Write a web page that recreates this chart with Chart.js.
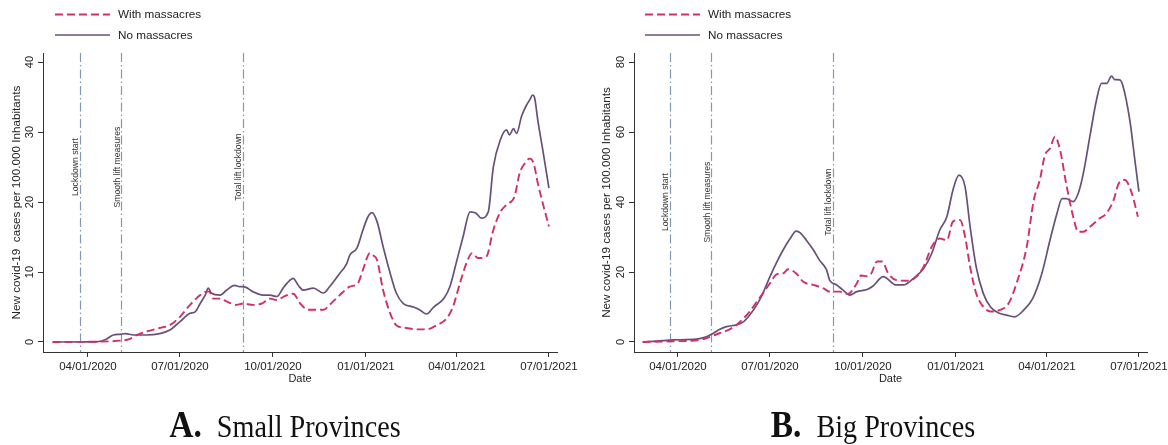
<!DOCTYPE html>
<html>
<head>
<meta charset="utf-8">
<script src="https://cdn.jsdelivr.net/npm/chart.js@4.4.1/dist/chart.umd.min.js"></script>
<style>
  body { margin: 0; background: #fff; width: 1168px; height: 445px; overflow: hidden; position: relative; }
  canvas { position: absolute; top: 0; }
  .cap { position: absolute; top: 405px; white-space: nowrap; font-family: "Liberation Serif", serif;
         font-size: 32px; line-height: 1; color: #111; transform: translateX(-50%) scaleX(.88); }
  .cap b { font-size: 38px; margin-right: 9px; }
</style>
</head>
<body>
<canvas id="small" width="584" height="445" style="left:0"></canvas>
<canvas id="big" width="584" height="445" style="left:584px"></canvas>
<div class="cap" style="left:285px"><b>A.</b> Small Provinces</div>
<div class="cap" style="left:873px"><b>B.</b> Big Provinces</div>
<script>
// days counted from 04/01/2020
var dateTicks = [0, 91, 183, 275, 365, 456];
var dateLabels = ['04/01/2020', '07/01/2020', '10/01/2020', '01/01/2021', '04/01/2021', '07/01/2021'];
var eventDays = [-8, 33, 153];
var eventLabels = ['Lockdown start', 'Smooth lift measures', 'Total lift lockdown'];
var seriesNames = ['With massacres', 'No massacres'];

var smallYTicks = [0, 10, 20, 30, 40];
var bigYTicks = [0, 20, 40, 60, 80];

var smallNoDays = [-35,-20,0,10,18,25,32,37,45,58,71,81,91,101,106,111,116,119,122,131,137,145,150,154,163,173,180,187,193,197,203,208,213,223,233,239,249,256,259,266,272,277,281,286,292,299,305,312,322,328,335,342,352,358,365,371,378,384,389,396,401,408,414,417,421,424,429,434,437,440,442,445,450,456];
var smallNo = [0,0,0.02,0.05,0.4,1.0,1.1,1.2,1.0,1.0,1.2,1.7,2.9,4.1,4.3,5.5,6.7,7.7,7.0,6.7,7.4,8.1,7.9,7.9,7.2,6.7,6.7,6.5,7.7,8.4,9.1,8.1,7.4,7.7,7.0,7.9,9.8,11.2,12.4,13.4,16.0,17.9,18.5,17.2,13.6,9.8,7.0,5.5,5.0,4.6,4.0,5.0,6.2,7.9,11.7,15.0,18.6,18.4,17.7,18.6,25.0,28.9,30.3,29.6,30.5,29.8,32.3,33.9,34.6,35.3,34.8,31.7,27.4,22.0];

var smallWithDays = [-35,10,32,41,47,58,71,81,91,101,111,117,120,124,131,137,147,154,163,172,180,187,190,197,203,210,218,233,239,249,259,267,272,279,282,286,292,299,305,315,325,335,345,355,361,368,375,380,386,394,401,408,414,422,427,432,437,441,445,450,456];
var smallWith = [0,0.05,0.2,0.4,0.9,1.5,2.0,2.4,3.6,5.3,6.7,7.2,7.2,6.2,6.2,5.8,5.3,5.5,5.3,5.5,6.2,6.0,6.2,6.7,6.9,5.5,4.6,4.6,5.3,6.7,7.9,8.4,10.3,12.7,12.4,11.7,7.4,4.1,2.4,2.0,1.8,1.8,2.4,3.4,5.0,8.4,11.5,12.7,12.0,12.2,16.0,18.6,19.6,20.8,24.1,25.5,26.2,25.5,22.7,19.8,16.5];

var bigNoDays = [-35,-15,-5,18,28,35,41,48,58,65,71,78,84,91,98,104,111,117,121,127,134,140,147,150,157,163,170,177,187,193,203,216,223,233,243,251,259,266,272,278,284,289,295,302,309,318,325,333,342,351,360,368,375,380,384,391,396,401,408,414,419,424,429,432,437,440,447,452,456];
var bigNo = [0,0.4,0.6,0.8,1.5,2.5,3.6,4.4,4.9,5.8,7.7,10.6,13.9,18.7,23,26.3,29.6,31.7,31.2,29.1,26.3,23.4,20.6,17.7,16.3,14.9,13.4,14.4,15.0,16.0,18.7,16.3,16.3,18.2,21.0,25.3,32,35.8,43.4,47.7,44.4,33,21.5,13.9,10.1,8.2,7.7,7.2,9.1,12.5,19.6,29.1,36.8,41,41,40.1,42.5,48.2,59.6,69.1,73.9,73.9,76,75,74.9,73.4,63.4,52,43];

var bigWithDays = [-35,-5,22,32,41,51,58,65,71,78,84,91,98,104,109,117,124,134,144,150,160,168,177,181,187,191,197,202,208,216,226,234,243,251,259,266,272,279,284,289,295,302,309,318,327,335,345,352,358,363,368,373,378,384,391,396,401,408,417,424,431,436,442,449,455];
var bigWith = [0,0.2,0.6,1.5,2.5,3.6,4.9,6.8,8.7,11.5,13.9,16.8,19.4,19.6,20.8,19.6,17.2,16.3,15.3,14.4,14.4,13.7,16.8,19.0,18.8,19.5,23,23,19.6,17.7,17.5,18.2,21.5,27.2,29.6,29.1,34.4,34.9,30.1,21.5,13.9,10.1,8.7,9.1,11.0,16.8,27.2,40.6,46.3,53.4,55.3,58.7,54.9,45.3,35.8,31.5,31.5,33,35.3,36.8,40.6,45.3,46.3,42.5,35.8];

var INK = '#222';
var SANS = '"Liberation Sans", Arial, sans-serif';

function pts(days, vals) {
    return days.map(function (d, i) { return { x: d, y: vals[i] }; });
}

// event lines, rotated labels, y tick labels, axis titles, legend
var decor = {
    id: 'decor',
    beforeDatasetsDraw: function (chart, args, o) {
        var ctx = chart.ctx, a = chart.chartArea, x = chart.scales.x, y = chart.scales.y;
        ctx.save();
        ctx.strokeStyle = '#8199b3';
        ctx.lineWidth = 1.2;
        ctx.setLineDash([9, 3, 1.5, 3]);
        eventDays.forEach(function (d) {
            var px = Math.round(x.getPixelForValue(d)) + 0.5;
            ctx.beginPath();
            ctx.moveTo(px, a.top);
            ctx.lineTo(px, a.bottom);
            ctx.stroke();
        });
        ctx.setLineDash([]);
        ctx.fillStyle = '#333';
        ctx.font = '8.6px ' + SANS;
        ctx.textAlign = 'center';
        ctx.textBaseline = 'alphabetic';
        eventDays.forEach(function (d, i) {
            ctx.save();
            ctx.translate(x.getPixelForValue(d) - 1.8, y.getPixelForValue(o.eventLabelAt));
            ctx.rotate(-Math.PI / 2);
            ctx.fillText(eventLabels[i], 0, 0);
            ctx.restore();
        });
        ctx.restore();
    },
    afterDraw: function (chart, args, o) {
        var ctx = chart.ctx, a = chart.chartArea, x = chart.scales.x, y = chart.scales.y;
        ctx.save();
        ctx.fillStyle = INK;
        ctx.textAlign = 'center';
        ctx.textBaseline = 'alphabetic';
        // y tick labels (rotated)
        ctx.font = '11px ' + SANS;
        y.ticks.forEach(function (t) {
            ctx.save();
            ctx.translate(a.left - 10, y.getPixelForValue(t.value));
            ctx.rotate(-Math.PI / 2);
            ctx.fillText(String(t.value), 0, 0);
            ctx.restore();
        });
        // y title
        ctx.font = '11.7px ' + SANS;
        ctx.save();
        ctx.translate(o.yTitleX, (a.top + a.bottom) / 2);
        ctx.rotate(-Math.PI / 2);
        ctx.fillText(o.yTitle, 0, 0);
        ctx.restore();
        // x title
        ctx.font = '11px ' + SANS;
        ctx.fillText('Date', (a.left + a.right) / 2, 382);
        // legend
        ctx.font = '11.7px ' + SANS;
        ctx.textAlign = 'left';
        ctx.textBaseline = 'middle';
        chart.data.datasets.forEach(function (ds, i) {
            var ly = 14.5 + i * 20.5;
            ctx.strokeStyle = ds.borderColor;
            ctx.lineWidth = ds.borderWidth;
            ctx.setLineDash(ds.borderDash || []);
            ctx.beginPath();
            ctx.moveTo(o.legendX, ly);
            ctx.lineTo(o.legendX + 55, ly);
            ctx.stroke();
            ctx.setLineDash([]);
            ctx.fillText(ds.label, o.legendX + 63, ly + 0.5);
        });
        ctx.restore();
    }
};

function makePanel(id, p) {
    var ctx = document.getElementById(id).getContext('2d');
    return new Chart(ctx, {
        type: 'line',
        data: {
            datasets: [{
                label: seriesNames[0],
                data: pts(p.withDays, p.withVals),
                borderColor: '#d22f65',
                borderWidth: 1.9,
                borderDash: [8, 4],
                pointRadius: 0,
                cubicInterpolationMode: 'monotone',
                fill: false
            }, {
                label: seriesNames[1],
                data: pts(p.noDays, p.noVals),
                borderColor: '#67507b',
                borderWidth: 1.7,
                pointRadius: 0,
                cubicInterpolationMode: 'monotone',
                fill: false
            }]
        },
        options: {
            responsive: false,
            animation: false,
            devicePixelRatio: 1,
            layout: { padding: { left: 0, top: 53, right: p.padRight, bottom: 0 } },
            plugins: {
                legend: { display: false },
                tooltip: { enabled: false },
                decor: { eventLabelAt: p.eventLabelAt, yTitle: p.yTitle, yTitleX: p.yTitleX, legendX: p.legendX }
            },
            scales: {
                x: {
                    type: 'linear',
                    min: p.xMin, max: 464,
                    afterBuildTicks: function (s) { s.ticks = dateTicks.map(function (v) { return { value: v }; }); },
                    afterFit: function (s) { s.height = 93; s.paddingLeft = 0; s.paddingRight = 0; },
                    ticks: {
                        autoSkip: false, maxRotation: 0, minRotation: 0, padding: 3,
                        color: INK, font: { family: SANS, size: 11.5 },
                        callback: function (v, i) { return dateLabels[i]; }
                    },
                    grid: { drawOnChartArea: false, drawTicks: true, tickLength: 5, color: '#333', tickColor: '#333' },
                    border: { display: true, color: '#333', width: 1 }
                },
                y: {
                    min: p.yMin, max: p.yMax,
                    afterBuildTicks: function (s) { s.ticks = p.yTicks.map(function (v) { return { value: v }; }); },
                    afterFit: function (s) { s.width = p.axisX; s.paddingTop = 0; s.paddingBottom = 0; },
                    ticks: { display: false },
                    grid: { drawOnChartArea: false, drawTicks: true, tickLength: 5, color: '#333', tickColor: '#333' },
                    border: { display: true, color: '#333', width: 1 }
                }
            }
        },
        plugins: [decor]
    });
}

makePanel('small', {
    withDays: smallWithDays, withVals: smallWith, noDays: smallNoDays, noVals: smallNo,
    yTicks: smallYTicks, yMin: -1.43, yMax: 41.3, xMin: -44.5,
    axisX: 43, padRight: 27, eventLabelAt: 25, yTitleX: 19.5, legendX: 55,
    yTitle: 'New covid-19  cases per 100.000 Inhabitants'
});

makePanel('big', {
    withDays: bigWithDays, withVals: bigWith, noDays: bigNoDays, noVals: bigNo,
    yTicks: bigYTicks, yMin: -2.86, yMax: 82.6, xMin: -43.5,
    axisX: 50, padRight: 21, eventLabelAt: 40, yTitleX: 26, legendX: 61,
    yTitle: 'New covid-19 cases per 100.000 Inhabitants'
});
</script>
</body>
</html>
